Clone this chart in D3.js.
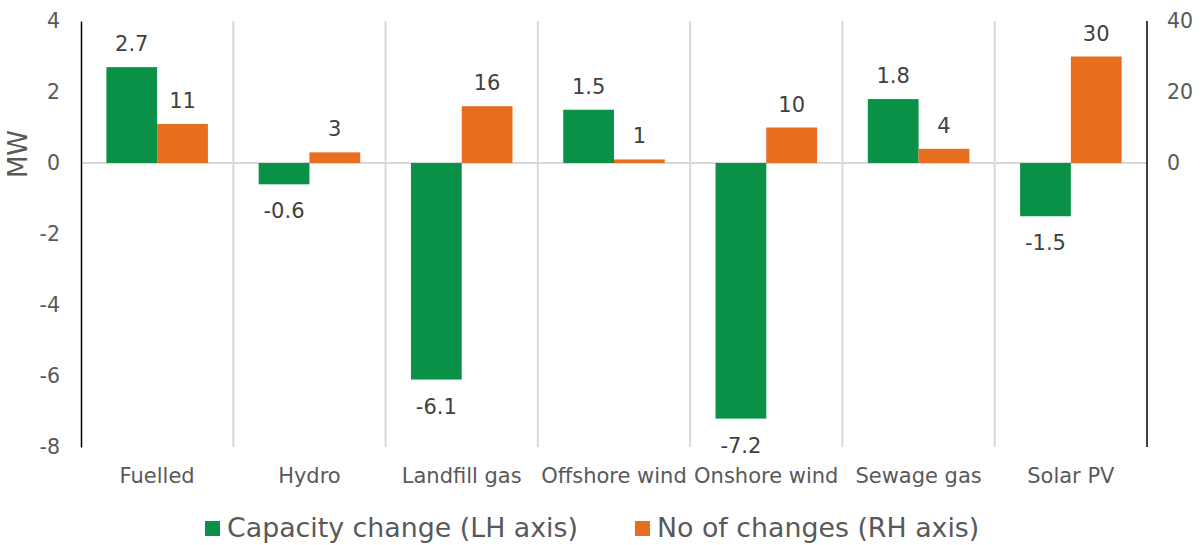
<!DOCTYPE html>
<html>
<head>
<meta charset="utf-8">
<script src="https://cdn.jsdelivr.net/npm/d3@7"></script>
<style>
  body { margin: 0; background: #fff; }
  svg { display: block; font-family: "DejaVu Sans", Verdana, sans-serif; }
</style>
</head>
<body>
<svg id="chart" width="1201" height="545"></svg>
<script>
const categories = ["Fuelled", "Hydro", "Landfill gas", "Offshore wind", "Onshore wind", "Sewage gas", "Solar PV"];
const capacityChange = [2.7, -0.6, -6.1, 1.5, -7.2, 1.8, -1.5];
const numberOfChanges = [11, 3, 16, 1, 10, 4, 30];
const leftTicks = [4, 2, 0, -2, -4, -6, -8];
const rightTicks = [40, 20, 0];
const seriesNames = ["Capacity change (LH axis)", "No of changes (RH axis)"];
const colors = ["#0a9148", "#e86e1f"];

const svg = d3.select("#chart");
const margin = { left: 81, right: 1147, top: 21, bottom: 447 };

const x = d3.scaleBand().domain(categories).range([margin.left, margin.right]);
const inner = d3.scaleBand().domain([0, 1]).range([0, x.bandwidth()]).paddingOuter(0.5).paddingInner(0);
const yL = d3.scaleLinear().domain([-8, 4]).range([margin.bottom, margin.top]);
// right axis shares the zero line with the left axis (0..40 over the same span as 0..4)
const yR = d3.scaleLinear().domain([-80, 40]).range([margin.bottom, margin.top]);

const textColor = "#595959";
const labelColor = "#404040";
const gridColor = "#d9d9d9";
const hyphenFormat = d => String(d).replace("\u2212", "-");

// vertical separators between categories
svg.append("g").selectAll("line")
  .data(categories.slice(1))
  .join("line")
  .attr("x1", d => x(d)).attr("x2", d => x(d))
  .attr("y1", margin.top).attr("y2", margin.bottom)
  .attr("stroke", gridColor).attr("stroke-width", 2);

// zero line
svg.append("line")
  .attr("x1", margin.left).attr("x2", margin.right)
  .attr("y1", yL(0)).attr("y2", yL(0))
  .attr("stroke", gridColor).attr("stroke-width", 2);

// left axis
const gL = svg.append("g").attr("transform", `translate(${margin.left},0)`)
  .call(d3.axisLeft(yL).tickValues(leftTicks).tickSize(0).tickPadding(21).tickFormat(hyphenFormat));
gL.select(".domain").attr("stroke", "#000").attr("stroke-width", 1.5);
gL.selectAll("text").attr("fill", textColor).attr("font-size", 20.5).attr("font-family", "DejaVu Sans");

// right axis
const gR = svg.append("g").attr("transform", `translate(${margin.right},0)`)
  .call(d3.axisRight(yR).tickValues(rightTicks).tickSize(0).tickPadding(20).tickFormat(hyphenFormat));
gR.select(".domain").attr("stroke", "#000").attr("stroke-width", 1.5)
  .attr("d", `M0,${margin.top}V${margin.bottom}`);
gR.selectAll("text").attr("fill", textColor).attr("font-size", 20.5).attr("font-family", "DejaVu Sans");

// category labels
svg.append("g").selectAll("text")
  .data(categories)
  .join("text")
  .attr("x", d => x(d) + x.bandwidth() / 2)
  .attr("y", 483)
  .attr("text-anchor", "middle")
  .attr("fill", textColor)
  .attr("font-size", 21)
  .text(d => d);

// axis title
svg.append("text")
  .attr("transform", "translate(27,154) rotate(-90)")
  .attr("text-anchor", "middle")
  .attr("fill", textColor)
  .attr("font-size", 26)
  .text("MW");

// capacity bars (left axis)
svg.append("g").selectAll("rect")
  .data(categories)
  .join("rect")
  .attr("x", d => x(d) + inner(0))
  .attr("width", inner.bandwidth())
  .attr("y", (d, i) => yL(Math.max(0, capacityChange[i])))
  .attr("height", (d, i) => Math.abs(yL(capacityChange[i]) - yL(0)))
  .attr("fill", colors[0]);

// count bars (right axis)
svg.append("g").selectAll("rect")
  .data(categories)
  .join("rect")
  .attr("x", d => x(d) + inner(1))
  .attr("width", inner.bandwidth())
  .attr("y", (d, i) => yR(numberOfChanges[i]))
  .attr("height", (d, i) => yR(0) - yR(numberOfChanges[i]))
  .attr("fill", colors[1]);

// value labels for capacity
svg.append("g").selectAll("text")
  .data(categories)
  .join("text")
  .attr("x", d => x(d) + inner(0) + inner.bandwidth() / 2)
  .attr("y", (d, i) => capacityChange[i] >= 0 ? yL(capacityChange[i]) - 16 : yL(capacityChange[i]) + 34)
  .attr("text-anchor", "middle")
  .attr("fill", labelColor)
  .attr("font-size", 21)
  .text((d, i) => capacityChange[i].toFixed(1));

// value labels for counts
svg.append("g").selectAll("text")
  .data(categories)
  .join("text")
  .attr("x", d => x(d) + inner(1) + inner.bandwidth() / 2)
  .attr("y", (d, i) => yR(numberOfChanges[i]) - 16)
  .attr("text-anchor", "middle")
  .attr("fill", labelColor)
  .attr("font-size", 21)
  .text((d, i) => numberOfChanges[i]);

// legend
const legendX = [205, 635];
const legend = svg.append("g").selectAll("g")
  .data(seriesNames)
  .join("g")
  .attr("transform", (d, i) => `translate(${legendX[i]},521)`);
legend.append("rect").attr("width", 15).attr("height", 15).attr("fill", (d, i) => colors[i]);
legend.append("text")
  .attr("x", 22).attr("y", 16)
  .attr("fill", textColor)
  .attr("font-size", 26.8)
  .text(d => d);
</script>
</body>
</html>
